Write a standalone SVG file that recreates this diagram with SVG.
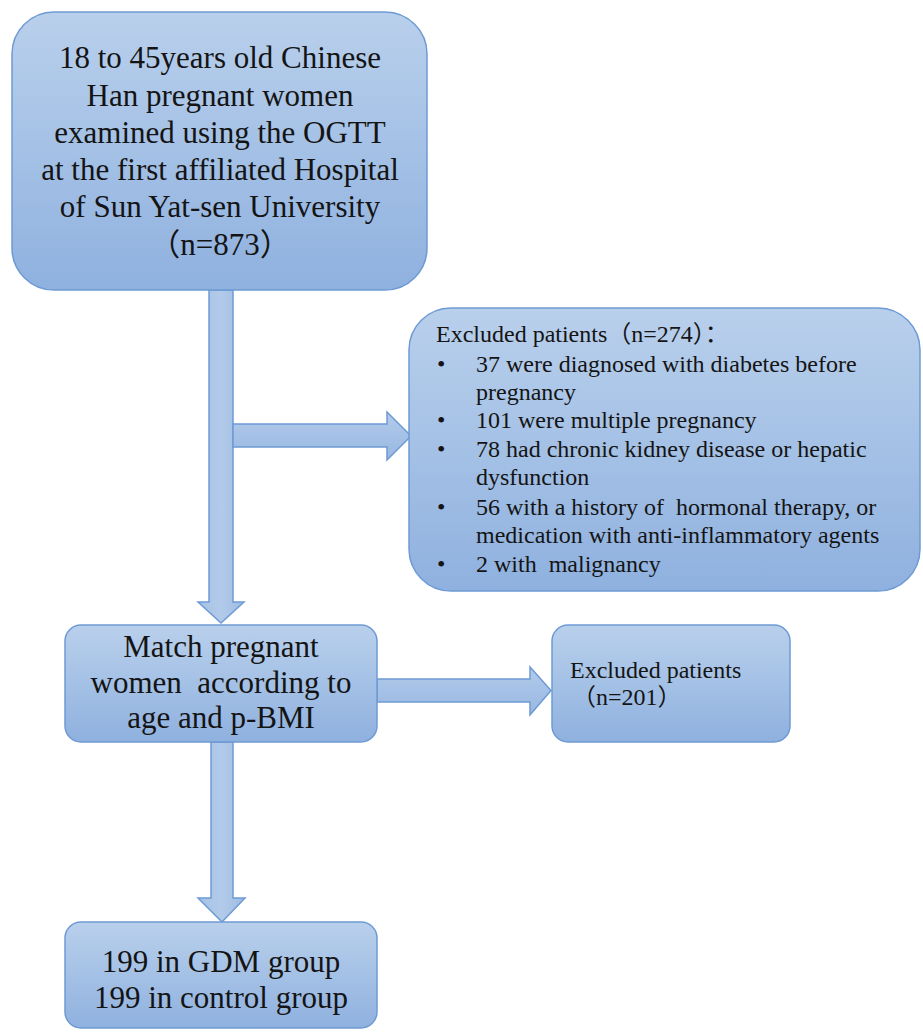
<svg xmlns="http://www.w3.org/2000/svg" width="923" height="1035" viewBox="0 0 923 1035">
<defs>
<linearGradient id="g" x1="0" y1="0" x2="0" y2="1">
<stop offset="0" stop-color="#b9d0ec"/>
<stop offset="1" stop-color="#8fb1df"/>
</linearGradient>
<linearGradient id="gh" x1="0" y1="0" x2="0" y2="1">
<stop offset="0" stop-color="#b3cbea"/>
<stop offset="1" stop-color="#98b7e2"/>
</linearGradient>
<linearGradient id="gv" x1="0" y1="0" x2="1" y2="0">
<stop offset="0" stop-color="#a5c1e6"/>
<stop offset="0.5" stop-color="#b3cbea"/>
<stop offset="1" stop-color="#9cbae3"/>
</linearGradient>
</defs>
<style>
.box{fill:url(#g);stroke:#6e9ad4;stroke-width:1.5}
.arr{stroke:#6e9ad4;stroke-width:1.5;stroke-linejoin:miter}
text{font-family:'Liberation Serif','Noto Sans CJK SC',serif;fill:#141414}
.big{font-size:31px;text-anchor:middle}
.sm{font-size:24px}
</style>
<rect width="923" height="1035" fill="#ffffff"/>
<g id="connectors">
<polygon class="arr" fill="url(#gv)" points="209,290 233,290 233,602 244,602 221,623 198,602 209,602"/>
<polygon class="arr" fill="url(#gh)" points="233,424 387,424 387,412 411,436 387,460 387,447 233,447"/>
<polygon class="arr" fill="url(#gh)" points="377,679 530,679 530,667 551,690.5 530,715 530,702 377,702"/>
<polygon class="arr" fill="url(#gv)" points="211,742 233,742 233,898 245,898 222,922 198,898 211,898"/>
</g>
<g id="n1">
<rect class="box" x="12" y="12" width="415" height="278" rx="42" ry="42"/>
<text class="big" x="220" y="68">18 to 45years old Chinese</text>
<text class="big" x="220" y="106">Han pregnant women</text>
<text class="big" x="220" y="143">examined using the OGTT</text>
<text class="big" x="220" y="180">at the first affiliated Hospital</text>
<text class="big" x="220" y="217">of Sun Yat-sen University</text>
<text class="big" x="220" y="255">（n=873）</text>
</g>
<g id="n2">
<rect class="box" x="409" y="308" width="511" height="283" rx="42" ry="42"/>
<text class="sm" x="436" y="342">Excluded patients（n=274）：</text>
<text class="sm" x="437" y="372">•</text>
<text class="sm" x="476" y="372">37 were diagnosed with diabetes before</text>
<text class="sm" x="476" y="400">pregnancy</text>
<text class="sm" x="437" y="428">•</text>
<text class="sm" x="476" y="428">101 were multiple pregnancy</text>
<text class="sm" x="437" y="457">•</text>
<text class="sm" x="476" y="457">78 had chronic kidney disease or hepatic</text>
<text class="sm" x="476" y="485">dysfunction</text>
<text class="sm" x="437" y="515">•</text>
<text class="sm" x="476" y="515" xml:space="preserve">56 with a history of  hormonal therapy, or</text>
<text class="sm" x="476" y="543">medication with anti-inflammatory agents</text>
<text class="sm" x="437" y="572">•</text>
<text class="sm" x="476" y="572" xml:space="preserve">2 with  malignancy</text>
</g>
<g id="n3">
<rect class="box" x="65" y="625" width="312" height="117" rx="16" ry="16"/>
<text class="big" x="221" y="657">Match pregnant</text>
<text class="big" x="221" y="693" xml:space="preserve">women  according to</text>
<text class="big" x="221" y="728">age and p-BMI</text>
</g>
<g id="n4">
<rect class="box" x="552" y="625" width="238" height="117" rx="16" ry="16"/>
<text class="sm" x="570" y="678">Excluded patients</text>
<text class="sm" x="572" y="705">（n=201）</text>
</g>
<g id="n5">
<rect class="box" x="65" y="922" width="312" height="106" rx="16" ry="16"/>
<text class="big" x="221" y="972">199 in GDM group</text>
<text class="big" x="221" y="1008">199 in control group</text>
</g>
</svg>
